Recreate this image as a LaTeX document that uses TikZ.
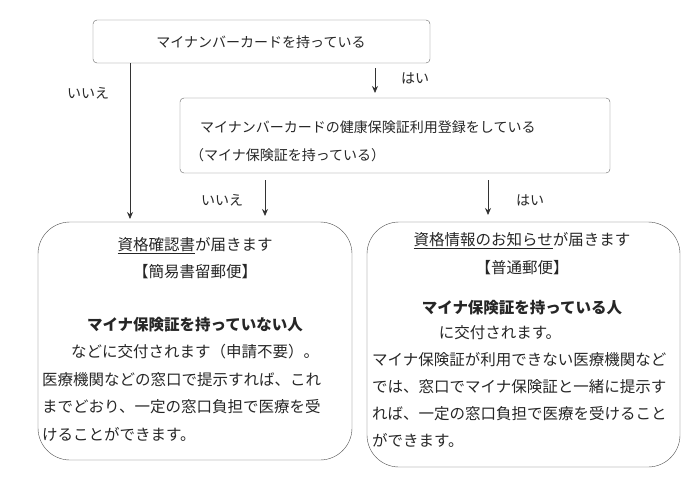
\documentclass[tikz,border=0pt]{standalone}
\usepackage{fontspec}
\setmainfont{Noto Sans CJK JP}
\usetikzlibrary{positioning,arrows.meta}
\begin{document}
\begin{tikzpicture}[x=1pt, y=-1pt,
box/.style={draw=black!60, rounded corners=4pt},
bigbox/.style={draw=black!70, rounded corners=32pt},
txt/.style={font=\fontsize{14}{16}\selectfont, text=black!85, inner sep=0pt},
line/.style={font=\fontsize{15.5}{17}\selectfont, text=black!85, inner sep=0pt},
arr/.style={-{Stealth[length=7pt,width=6pt]}, thick, black!80},
]
\useasboundingbox (0,0) rectangle (700,487);
%Boxes
\draw[box] (93,20) rectangle (430,63);
\draw[box] (180,98) rectangle (610,173);
\draw[bigbox] (38,222) rectangle (352,460);
\draw[bigbox] (367,222) rectangle (680,467);
%Top and middle texts
\node[txt] (card) at (261,42) {マイナンバーカードを持っている};
\node[txt, anchor=west] (reg) at (200,127) {マイナンバーカードの健康保険証利用登録をしている};
\node[txt, anchor=west] (regb) at (190,155) {（マイナ保険証を持っている）};
%Arrow ends
\coordinate (cardL) at (130,63);
\coordinate (leftT) at (130,219);
\coordinate (cardR) at (375,68);
\coordinate (regT) at (375,93);
\coordinate (regL) at (265,180);
\coordinate (leftT2) at (265,216);
\coordinate (regR) at (488,180);
\coordinate (rightT) at (488,215);
%Lines
\draw[arr] (cardL) -- (leftT);
\draw[arr] (cardR) -- (regT);
\draw[arr] (regL) -- (leftT2);
\draw[arr] (regR) -- (rightT);
\node[txt] (no1) at (88,93) {いいえ};
\node[txt] (yes1) at (415,78) {はい};
\node[txt] (no2) at (222,200) {いいえ};
\node[txt] (yes2) at (530,200) {はい};
%Left box
\node[line] (l1) at (195,246) {\underline{資格確認書}が届きます};
\node[line] (l2) at (195,272) {【簡易書留郵便】};
\node[line, font=\fontsize{15.5}{17}\selectfont\bfseries] (l3) at (195,325) {マイナ保険証を持っていない人};
\node[line] (l4) at (195,352) {などに交付されます（申請不要）。};
\node[line, anchor=west] (l5) at (42,380) {医療機関などの窓口で提示すれば、これ};
\node[line, anchor=west] (l6) at (42,407) {までどおり、一定の窓口負担で医療を受};
\node[line, anchor=west] (l7) at (42,434) {けることができます。};
%Right box
\node[line] (r1) at (522,241) {\underline{資格情報のお知らせ}が届きます};
\node[line] (r2) at (522,268) {【普通郵便】};
\node[line, font=\fontsize{15.5}{17}\selectfont\bfseries] (r3) at (522,308) {マイナ保険証を持っている人};
\node[line] (r4) at (500,333) {に交付されます。};
\node[line, anchor=west] (r5) at (372,360) {マイナ保険証が利用できない医療機関など};
\node[line, anchor=west] (r6) at (372,387) {では、窓口でマイナ保険証と一緒に提示す};
\node[line, anchor=west] (r7) at (372,414) {れば、一定の窓口負担で医療を受けること};
\node[line, anchor=west] (r8) at (372,440) {ができます。};
\end{tikzpicture}
\end{document}
